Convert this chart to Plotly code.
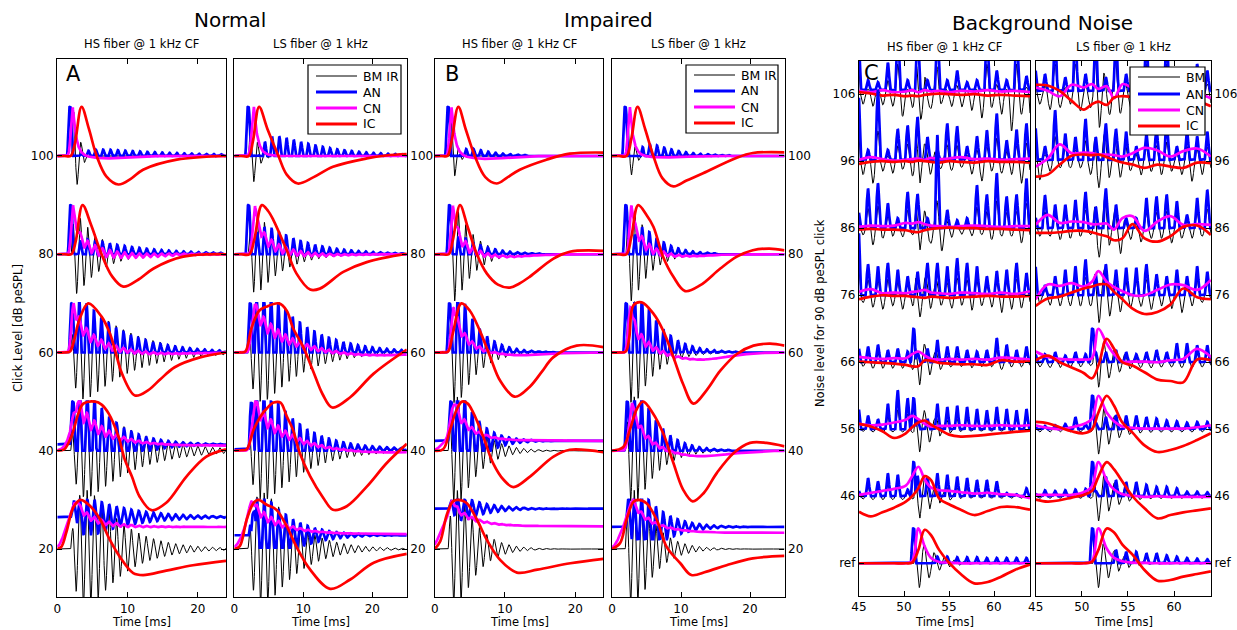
import numpy as np
import plotly.graph_objects as go

W, H = 1237, 630

# ---------------- data: click-evoked responses (Normal / Impaired) ----------------
click_levels = [100, 80, 60, 40, 20]
click_xticks = [0, 10, 20]
T_CLICK = 1.05  # ms, period of 1 kHz CF ringing

# panel order: Normal-HS, Normal-LS, Impaired-HS, Impaired-LS ; rows = levels 100..20
bm_t0 = [[2.06, 1.96, 1.8, 1.87, 1.87], [2.06, 2.0, 1.9, 1.9, 1.96], [2.1, 2.05, 1.95, 1.9, 1.9], [2.06, 2.0, 1.95, 1.9, 1.9]]
bm_amp = [[9, 8, 9.5, 9.5, 12], [7, 8, 10, 10, 11.5], [7, 9.5, 10.5, 11, 12], [6, 9.5, 10.5, 11, 12]]
bm_tr = [[0.2, 0.3, 1.0, 1.2, 1.5], [0.25, 0.5, 1.2, 1.5, 1.5], [0.2, 0.4, 0.6, 0.8, 0.8], [0.2, 0.4, 0.6, 0.8, 0.8]]
bm_tau = [[0.7, 3.5, 6.5, 6.5, 4.8], [0.8, 4.0, 5.5, 5.5, 4.5], [0.6, 2.6, 2.8, 2.8, 2.6], [0.7, 2.6, 3.0, 3.0, 2.8]]

an_base = [[0, 0, 0, 1.3, 6.5], [0, 0, 0, 0.3, 2.8], [0, 0, 0, 2.0, 8.2], [0, 0, 0, 0, 4.5]]
an_floor = [[0, 0, 0, 1.3, 3.5], [0, 0, 0, 0.3, 2.5], [0, 0, 0, 2.0, 2.5], [0, 0, 0, 0, 2.5]]
an_spike_t = [[1.8, 1.9, 2.05, 2.2, 2.5], [2.0, 2.05, 2.3, 2.5, 2.8], [1.9, 2.1, 2.1, 2.3, 2.5], [1.9, 2.0, 2.05, 2.2, 2.4]]
an_spike_h = [[10, 10, 10, 8.7, 3.5], [10, 10, 10, 9.7, 7.2], [10, 10, 10, 8, 1.8], [10, 10, 10, 10, 5.5]]
an_t0 = [[3.0, 2.3, 1.9, 1.9, 1.9], [3.5, 2.5, 2.1, 2.1, 2.1], [3.5, 2.5, 2.0, 2.0, 2.0], [3.8, 2.8, 2.2, 2.2, 2.2]]
an_tr = [[1.5, 0.8, 0.5, 1.0, 1.0], [1.5, 1.0, 1.0, 1.0, 1.2], [1.0, 0.6, 0.6, 0.6, 0.8], [1.0, 1.0, 0.8, 0.8, 1.2]]
an_amp = [[1.3, 3.0, 11, 12, 4.0], [4.0, 5.5, 13, 13, 8], [1.5, 3.5, 13, 12, 2.5], [2.4, 5.5, 13, 13, 7]]
an_tau = [[12, 8, 6, 4, 6], [7, 6, 6, 5, 4], [3.5, 3.5, 2.8, 2.5, 3.5], [4.0, 3.0, 3.2, 3.0, 3.2]]

cn_tp = [[2.2, 2.25, 2.35, 3.0, 2.8], [2.85, 3.0, 2.9, 3.0, 2.7], [2.4, 2.6, 2.7, 2.8, 2.6], [2.6, 2.8, 2.7, 2.9, 3.0]]
cn_sr = [[0.25, 0.25, 0.3, 0.8, 0.8], [0.3, 0.3, 0.35, 0.4, 0.7], [0.25, 0.25, 0.3, 0.5, 0.6], [0.25, 0.25, 0.3, 0.4, 0.8]]
cn_fast = [[7, 4.5, 3, 2, 1.5], [7, 4, 2, 1.5, 1.5], [7, 4, 3, 2, 1.5], [7, 3, 4, 2, 1]]
cn_slow = [[3, 5.5, 7, 7, 4], [3, 6, 8, 8.5, 5.5], [3, 6, 7, 6.3, 3.9], [3, 7, 6, 8, 5.7]]
cn_tau = [[0.7, 1.8, 3.0, 4.0, 2.5], [0.8, 2.2, 4.5, 4.8, 4.0], [0.7, 1.5, 2.0, 2.5, 3.0], [0.7, 1.6, 2.2, 2.2, 3.0]]
cn_end = [[0, 0, 0, 1.0, 4.5], [0, 0, 0, 0, 3.0], [0, 0, 0, 2.0, 4.6], [0, 0, 0, 0, 3.3]]
cn_step = [[5, 5, 5, 0.9, 0.8], [5, 5, 5, 5, 0.7], [5, 5, 5, 0.8, 0.5], [5, 5, 5, 5, 0.8]]
cn_dip = [[-0.5, -0.3, -0.3, 0, 0], [0, -0.2, -0.7, -0.5, 0], [-0.6, -0.5, -0.6, 0, 0], [-0.3, -0.4, -1.5, -1.2, 0]]
cn_rip = [[0, 1.0, 1.2, 1.5, 0.6], [0, 1.0, 1.3, 1.3, 0.8], [0, 1.0, 1.0, 1.0, 0.5], [0, 1.0, 1.0, 0.8, 0.5]]

# IC responses: (time ms, dB re. click level)
ic_nhs = [
    [(0, 0), (1.0, 0), (1.9, 0), (2.5, 2.5), (3.45, 10), (4.5, 5.5), (5.6, 0), (7.0, -4.2), (8.7, -5.8), (10.5, -4.6), (12.2, -2.8), (17, -0.75), (24, 0)],
    [(0, 0), (1.0, 0), (2.0, 0), (2.6, 2.5), (3.6, 10), (4.8, 6), (6.3, 0), (7.8, -4.5), (9.4, -6.6), (11.5, -5.2), (13.7, -2.9), (17.9, -0.5), (24, 0)],
    [(0, 0), (1.0, 0), (1.8, 0.2), (2.4, 2.5), (3.1, 6.5), (4.4, 10), (6.3, 7.3), (7.5, 3.8), (8.3, 0), (9.2, -4.3), (11.05, -8.75), (12.9, -7.7), (14.7, -5.4), (16.7, -3.0), (20.3, -1.0), (24, 0)],
    [(0, 0), (1.0, 0.3), (2.0, 2.9), (3.0, 7.6), (3.7, 9.6), (5.4, 10), (6.3, 9.4), (7.3, 7.6), (8.7, 2.9), (9.6, -1.8), (10.6, -5.2), (11.7, -9.3), (13.4, -12.1), (15.5, -10.6), (18.4, -5.2), (21.2, -1.2), (24, 0.3)],
    [(0, 0), (0.6, 0.5), (1.3, 3.5), (2.3, 8.5), (3.3, 10), (4.7, 8.7), (6.1, 6), (7.5, 1.8), (8.9, -1.6), (10.8, -4.9), (12.2, -5.3), (15.5, -4.4), (19.3, -3.3), (24, -2.4)],
]
ic_nls = [
    [(0, 0), (1.0, 0), (2.1, 0), (2.7, 3), (3.6, 10), (4.8, 5.5), (6.4, 0), (7.6, -3.8), (9.2, -5.6), (11.5, -4.3), (14.3, -2.2), (19.2, -0.5), (22, 0.1), (25, 0.4)],
    [(0, 0), (1.0, 0), (2.2, 0), (2.9, 3), (4.0, 10), (4.9, 8.8), (5.65, 7), (7.6, 0.8), (9.0, -3.9), (11.0, -7.2), (12.4, -7.0), (15.8, -3.6), (19.2, -1.6), (25, 0.1)],
    [(0, 0), (0.8, 0), (1.6, 0.2), (2.5, 5), (3.6, 8.5), (4.6, 9.3), (6.5, 10), (7.6, 8.5), (8.5, 5), (10.0, 1.1), (11.4, -3.7), (12.8, -8.5), (14.2, -11.2), (16.8, -9.1), (20.2, -4.3), (25, 0.6)],
    [(0, 0), (1.0, 0.1), (1.8, 0.3), (2.8, 4.3), (3.8, 7), (4.7, 8.6), (5.7, 9.8), (6.7, 9.8), (7.6, 7), (8.5, 4.3), (9.5, -0.5), (11.0, -5.2), (12.9, -9.6), (14.3, -12), (16.3, -11.3), (19.2, -7.3), (22.1, -2.5), (25, 1.4)],
    [(0, 0), (0.8, 0.6), (1.8, 6), (2.8, 9.4), (3.5, 10), (4.7, 9), (6.1, 8), (7.6, 4.6), (9.0, 0.5), (11.0, -4.2), (13.9, -8.1), (16.8, -6.2), (20.2, -2.8), (25, -1.0)],
]
ic_ihs = [
    [(0, 0), (1.0, 0), (1.8, 0), (2.4, 3), (3.36, 10), (4.4, 5.5), (5.7, 0), (7.2, -4.3), (8.8, -5.6), (10.3, -4.4), (12.1, -2.8), (15.9, -0.75), (19.2, 0.47), (24, 0.7)],
    [(0, 0), (1.0, 0), (2.0, 0), (2.6, 3), (3.6, 10), (4.7, 5.5), (6.0, 0), (7.4, -3.9), (9.0, -6.2), (10.7, -6.8), (12.0, -6.0), (13.5, -4.6), (16.9, -0.9), (19.2, 0.5), (24, 0.7)],
    [(0, 0), (1.0, 0), (1.9, 0.2), (2.6, 4), (3.8, 10), (5.0, 8.5), (6.4, 4.5), (7.9, -0.9), (9.3, -5.7), (11.4, -9), (13.5, -7), (15.2, -4), (16.9, -0.95), (20.2, 1.4), (24, 1.1)],
    [(0, 0), (1.2, 0.3), (2.2, 4.3), (3.1, 8.3), (3.9, 10), (4.7, 9.6), (5.5, 7.7), (6.9, 2.9), (8.3, -2.5), (9.8, -5.9), (11.2, -7.4), (13.6, -5.2), (16.9, -1.2), (19.2, 0.2), (24, -0.3)],
    [(0, 0), (0.8, 1.6), (1.7, 6.9), (2.6, 9.7), (3.4, 10), (4.5, 9.4), (6.0, 6), (7.4, 1.9), (9.3, -2.2), (11.7, -4.8), (14.6, -4.2), (19.3, -2.9), (24, -2.0)],
]
ic_ils = [
    [(0, 0), (1.0, 0), (2.1, 0), (2.8, 3.5), (3.7, 10), (4.8, 5.5), (6.0, 0), (7.3, -4.5), (8.9, -6.2), (10.8, -5), (13.2, -3.5), (18, -0.4), (20.4, 0.6), (25, 0.75)],
    [(0, 0), (1.0, 0), (2.1, 0), (2.8, 3.5), (3.8, 10), (5.0, 8), (6.0, 5.6), (7.4, -0.5), (8.9, -4.6), (10.6, -7.5), (12.8, -6.3), (15.7, -2.9), (18.1, -0.5), (20.4, 0.8), (22.8, 1.15), (25, 0.8)],
    [(0, 0), (1.0, 0), (2.0, 0.2), (2.5, 3), (3.1, 9.6), (4.3, 10.2), (6.0, 7.9), (7.4, 4.5), (8.9, -0.95), (10.3, -6.4), (11.8, -10.4), (13.7, -7.7), (15.7, -3.7), (18.1, -0.3), (20.5, 1.4), (22.9, 1.8), (25, 1.4)],
    [(0, 0), (1.6, 0.7), (2.6, 4.3), (3.6, 8.5), (4.5, 10), (5.9, 7.7), (7.4, 3.6), (8.9, -2.5), (10.3, -7.9), (11.7, -10.3), (13.3, -8.6), (15.2, -4.5), (17.6, -0.5), (20, 1.6), (22.4, 1.6), (25, 0.9)],
    [(0, 0), (1.16, 1.2), (2.1, 5.9), (3.1, 9.6), (3.8, 10), (5.0, 9.3), (6.5, 5.9), (7.9, 0.5), (9.9, -2.9), (11.5, -5.3), (13.7, -4.6), (16.6, -3.3), (20.4, -1.9), (25, -1.4)],
]
ic_click = [ic_nhs, ic_nls, ic_ihs, ic_ils]

# ---------------- data: background noise (90 dB click in noise) ----------------
noise_levels = [106, 96, 86, 76, 66, 56, 46, 36]
noise_ticktext = ['106', '96', '86', '76', '66', '56', '46', 'ref']
noise_xticks = [45, 50, 55, 60]
T_NOISE = 1.1
noise_peak_t = [44.9, 46.0, 47.1, 48.2, 49.3, 50.4, 51.5, 52.6, 53.7, 54.8, 55.9, 57.0, 58.1, 59.2, 60.3, 61.4, 62.5, 63.6, 64.7]

an_h_hs = [
    [9, 1.5, 1.2, 4.1, 9, 1.5, 9, 1.5, 9, 1.5, 2.9, 1.2, 1.5, 9, 2.9, 1.5, 9, 2.1, 1.0],
    [12, 1.5, 10.5, 1.5, 4.6, 5.1, 6.4, 3.4, 1.5, 5.4, 5.0, 2.0, 3.5, 4.4, 6.9, 2.9, 4.5, 5.4, 1.0],
    [3, 5.9, 6.7, 3.7, 1.5, 5.4, 5.1, 1.5, 13.9, 2.7, 1.2, 1.5, 6.4, 5.0, 8.2, 4.7, 5.0, 7.4, 1.0],
    [12, 4.6, 4.3, 4.8, 3.8, 2.8, 3.5, 4.8, 4.8, 4.3, 5.5, 4.8, 4.3, 2.8, 3.6, 3.8, 4.8, 3.3, 1.0],
    [2.6, 2.3, 2.6, 1.8, 2.0, 1.6, 1.5, 2.0, 3.3, 2.3, 2.3, 1.8, 1.6, 1.8, 3.6, 2.6, 1.8, 2.3, 1.0],
    [3.8, 2.0, 1.5, 3.8, 5.8, 4.6, 1.5, 1.5, 3.8, 3.3, 3.5, 3.3, 3.0, 2.8, 3.3, 3.0, 2.8, 3.0, 1.0],
    [1.0, 2.7, 2.2, 3.4, 3.2, 1.0, 3.0, 2.8, 3.4, 3.2, 2.9, 2.7, 2.4, 2.4, 2.2, 0.5, 0.3, 1.2, 0.5],
    [0, 0, 0, 0, 0, 0, 0, 0, 1.0, 1.0, 0.9, 0.9, 0.9, 0.8, 0.8, 0.8, 0.8, 0.8, 0.8],
]
bm_d_hs = [
    [1.5, 1.8, 1.6, 1.8, 3.3, 2.0, 3.5, 2.0, 1.5, 2.0, 2.0, 2.5, 3.6, 2.0, 3.0, 5.5, 3.0, 4.3, 2.0],
    [2.0, 3.3, 1.5, 1.8, 1.2, 2.2, 1.0, 1.5, 1.0, 1.5, 1.0, 2.0, 3.0, 1.5, 1.8, 2.0, 3.3, 2.0, 2.0],
    [1.0, 2.5, 1.5, 1.2, 1.3, 1.0, 1.0, 2.2, 3.7, 1.5, 1.0, 1.2, 1.0, 1.7, 1.2, 1.2, 2.2, 1.5, 1.0],
    [1.1, 1.8, 2.1, 1.6, 2.1, 1.6, 1.6, 1.6, 1.6, 2.1, 1.6, 2.3, 1.6, 1.8, 2.6, 2.1, 1.9, 1.5, 1.0],
    [0.6, 0.9, 0.9, 0.9, 0.9, 1.1, 0.5, 0.8, 0.9, 0.7, 0.7, 0.9, 0.7, 0.7, 1.1, 0.7, 0.7, 0.7, 0.7],
    [0.3, 0.4, 0.4, 0.4, 0.4, 0.5, 0.3, 0.4, 0.5, 0.4, 0.3, 0.3, 0.3, 0.3, 0.3, 0.3, 0.3, 0.3, 0.3],
    [0.4, 0.5, 0.5, 0.5, 0.5, 0.4, 0.3, 0.4, 0.4, 0.4, 0.3, 0.3, 0.3, 0.3, 0.3, 0.3, 0.3, 0.3, 0.3],
    [0, 0, 0, 0, 0, 0, 0, 0, 0, 0, 0, 0, 0, 0, 0, 0, 0, 0, 0],
]
an_h_ls = [
    [3.9, 2.5, 9, 2.0, 9, 2.5, 9, 2.0, 9, 2.5, 3.0, 9, 2.0, 9, 3.0, 2.5, 4, 3, 2],
    [6.1, 2.0, 7.4, 3.9, 3.4, 6.1, 3.4, 5.4, 4.6, 4.2, 2.0, 3.9, 4.6, 5.7, 2.0, 4.4, 3.5, 4.2, 2],
    [2.0, 4.9, 3.5, 3.5, 4.2, 5.4, 3.2, 5.9, 3.5, 1.5, 1.5, 4.5, 4.7, 5.0, 4.0, 2.0, 4.5, 5.7, 2],
    [5.5, 1.5, 2.8, 3.8, 4.3, 5.3, 3.1, 4.6, 3.8, 4.1, 4.1, 4.6, 3.1, 2.8, 3.8, 2.8, 4.3, 3.5, 2],
    [1.5, 1.2, 1.5, 1.0, 1.5, 1.2, 1.5, 1.5, 1.8, 1.5, 1.2, 1.5, 1.8, 1.5, 2.8, 2.8, 2.5, 2.5, 1],
    [0.3, 0.5, 0.6, 0.8, 1.8, 0.8, 1.0, 1.8, 2.1, 2.0, 2.0, 1.8, 1.6, 1.3, 1.2, 1.0, 1.1, 1.1, 1],
    [0.5, 0.9, 0.8, 0.9, 1.0, 1.1, 0.8, 2.9, 2.4, 2.1, 2.1, 1.7, 1.4, 1.4, 1.2, 0.7, 0.7, 0.6, 0.5],
    [0, 0, 0, 0, 0, 0, 0, 0, 2.0, 1.7, 1.7, 1.5, 1.5, 1.2, 1.0, 0.8, 0.7, 0.6, 0.5],
]
bm_d_ls = [
    [1.5, 2.3, 2.0, 1.5, 2.5, 2.0, 3.0, 2.0, 2.5, 2.0, 1.5, 2.5, 2.0, 2.5, 2.0, 2.0, 2.5, 2.0, 2.0],
    [2.8, 1.5, 1.0, 1.0, 1.0, 2.0, 1.2, 1.0, 2.0, 1.2, 2.0, 1.5, 2.0, 1.5, 2.0, 3.0, 2.0, 1.5, 1.5],
    [1.2, 1.2, 1.7, 1.5, 1.2, 1.0, 2.0, 1.2, 3.5, 1.5, 2.0, 1.5, 1.5, 2.2, 1.5, 1.5, 1.2, 1.2, 1.0],
    [1.1, 1.5, 1.6, 1.6, 1.6, 1.6, 1.5, 2.1, 2.1, 1.6, 1.6, 2.1, 1.6, 2.0, 2.6, 1.6, 1.1, 1.1, 1.0],
    [0.7, 0.8, 0.8, 0.8, 0.7, 0.5, 0.5, 0.8, 0.8, 0.7, 0.7, 0.8, 0.7, 0.7, 0.8, 0.8, 0.7, 0.7, 0.7],
    [0.4, 0.4, 0.4, 0.4, 0.4, 0.4, 0.4, 0.4, 0.4, 0.4, 0.4, 0.4, 0.4, 0.4, 0.4, 0.4, 0.4, 0.4, 0.4],
    [0.3, 0.3, 0.3, 0.3, 0.3, 0.3, 0.3, 0.3, 0.3, 0.3, 0.3, 0.3, 0.3, 0.3, 0.3, 0.3, 0.3, 0.3, 0.3],
    [0, 0, 0, 0, 0, 0, 0, 0, 0, 0, 0, 0, 0, 0, 0, 0, 0, 0, 0],
]
an_base_noise = [[0.6, 0.2, 0, 0, 0, 0, 0, 0], [0.5, 0.2, 0, 0, 0, 0, 0, 0]]
click_spike_h = [[0, 0, 0, 0, 5.0, 4.6, 5.1, 5.2], [0, 0, 0, 0, 5.0, 5.0, 5.1, 5.2]]
click_an_t = [51.05, 51.15]
click_bm_t = [51.7, 51.8]
click_bm_amp = 4.0

ctl_t_hs = [45, 46.3, 47.6, 48.9, 50.2, 50.9, 51.6, 52.3, 53.0, 53.9, 55.0, 56.3, 57.8, 59.3, 60.8, 62.3, 64]
ctl_t_ls = [45, 46.3, 47.6, 48.9, 50.2, 51.1, 51.8, 52.7, 53.5, 54.4, 55.5, 56.8, 58.2, 59.6, 61.0, 62.5, 64]
cn_hs = [
    [0.5, 0.3, 0.6, 0.3, 0.4, 0.6, 0.3, 0.6, 0.4, 0.5, 0.3, 0.5, 0.4, 0.6, 0.4, 0.5, 0.3],
    [0.2, 0.6, 0.3, 0.1, 0.2, 0.3, 0.4, 0.2, 0.5, 0.3, 0.4, 0.6, 0.3, 0.4, 0.2, 0.3, 0.4],
    [0.2, 0.4, 0.3, 0.4, 0.8, 0.7, 0.9, 0.6, 0.4, 0.3, 0.2, 0.3, 0.4, 0.3, 0.2, 0.3, 0.3],
    [0.5, 0.9, 0.3, 0.4, 0.3, 0.5, 0.6, 0.8, 0.4, 0.3, 0.2, 0.4, 0.3, 0.2, 0.4, 0.2, 0.6],
    [0.8, 0.6, 0.5, 0.6, 0.6, 1.2, 1.6, 1.0, 0.5, 0.4, 0.5, 0.4, 0.5, 0.4, 0.7, 0.6, 0.4],
    [0.8, 0.6, 0.7, 1.0, 1.4, 2.0, 1.5, 0.8, 0.4, 0.5, 0.5, 0.6, 0.5, 0.5, 0.6, 0.5, 0.6],
    [0.2, 0.5, 0.8, 1.1, 1.6, 3.0, 4.4, 2.5, 1.3, 0.9, 0.8, 0.6, 0.4, 0.5, 0.3, 0.2, -0.3],
    [0, 0, 0, 0, 0, 0.3, 5.2, 2.5, 0.8, 0.2, 0.1, 0, 0, 0, 0, 0, 0],
]
ic_hs = [
    [0.3, 0.1, -0.2, -0.1, -0.3, -0.2, -0.3, -0.1, 0, 0.1, 0, -0.1, 0, -0.2, -0.1, -0.2, -0.3],
    [-0.4, -0.1, 0, -0.1, 0, -0.1, 0.1, 0, -0.1, -0.2, 0, -0.1, -0.2, 0, -0.1, -0.1, -0.2],
    [-0.2, -0.1, -0.2, -0.2, -0.3, -0.5, -0.6, -0.3, -0.1, 0, 0.1, 0, 0, -0.1, -0.1, -0.2, -0.3],
    [-0.6, -0.2, 0, -0.1, -0.1, -0.2, -0.3, -0.4, -0.2, -0.3, -0.4, -0.3, -0.2, -0.1, -0.2, -0.2, -0.1],
    [0.1, 0, -0.1, -0.2, -0.4, -0.6, -0.6, 0.3, 0.2, -0.1, -0.2, -0.3, -0.3, -0.4, 0.3, 0.1, 0.1],
    [0.8, 0.4, -0.3, -1.3, -0.6, 0.3, 1.0, 1.3, 0.7, 0.0, -0.8, -1.1, -1.0, -0.8, -0.6, -0.4, -0.2],
    [-2.3, -3.0, -2.4, -1.7, -0.8, 0.0, 1.2, 3.0, 2.4, -0.3, -1.2, -2.0, -2.8, -2.2, -1.6, -1.6, -2.0],
    [0, 0, 0, 0, 0, 0.1, 2.0, 5.0, 4.2, 2.0, 0.1, -1.6, -3.0, -2.8, -2.0, -1.0, -0.2],
]
cn_ls = [
    [1.0, 0.5, -0.3, 1.4, 1.0, 1.5, 0.8, 1.2, -0.6, 1.5, 1.0, 1.2, 0.8, 1.0, 0.6, 0.2, -0.6],
    [-0.8, 0.4, 2.5, 1.2, 1.3, 1.2, 1.0, 1.0, 0.9, 0.7, 1.2, 2.0, 1.6, 0.7, 1.5, 1.9, 0.7],
    [0.5, 2.0, 0.8, 1.0, 0.9, 0.6, 0.6, 0.7, -0.2, 1.5, 1.8, -0.4, 1.0, 1.8, 0.5, 0.6, 0.5],
    [-0.6, 1.6, 1.4, 1.8, 1.3, 2.0, 3.6, 2.0, 1.2, 0.6, 0.0, 0.0, 0.8, 1.6, 1.5, 0.8, 2.3],
    [1.6, 0.8, 0.5, 0.4, 0.4, 0.6, 5.0, 2.8, 1.2, 0.1, 0.1, 0.1, 0.0, 0.3, 0.5, 2.0, 0.8],
    [0.6, 0.2, 0.0, 0.3, 0.8, 1.5, 5.0, 2.5, 1.2, 0.4, 0.2, 0.1, 0.1, 0.1, 0.1, 0.3, 0.6],
    [0.2, 0.2, 0.2, 0.2, 0.6, 1.5, 5.1, 2.4, 1.0, 0.3, 0.1, -0.1, 0.0, -0.1, -0.1, -0.1, -0.1],
    [0, 0, 0, 0, 0, 0.3, 5.2, 2.2, 0.8, 0.3, 0.1, 0.05, 0, 0, 0, 0, 0],
]
ic_ls = [
    [1.4, 1.3, 0.5, -1.0, -2.3, -1.5, -1.1, -1.6, -0.5, -0.3, -0.4, -0.5, -0.4, -0.5, -0.6, -1.0, -1.8],
    [-2.3, -2.0, -0.5, 0.8, 1.0, 0.9, 1.0, 0.6, 0.2, -0.2, -0.5, -1.0, -0.5, -0.8, -1.0, -0.2, -0.3],
    [-0.7, -0.7, -0.6, -0.4, -0.4, -0.6, -0.9, -1.2, -1.8, -1.5, 0.6, -1.5, -2.0, -1.2, 0.2, 0.4, -1.0],
    [-1.6, -0.5, -0.2, 0.4, 1.0, 1.3, 1.6, 1.6, 0.5, -0.6, -2.0, -2.8, -2.5, -1.4, 1.0, -0.3, -0.6],
    [0.3, 1.0, 0.0, -0.8, -1.6, -2.4, -0.5, 3.5, 2.0, 0.0, -0.5, -1.5, -2.6, -2.8, -3.0, 0.4, 0.3],
    [1.1, 0.9, 0.3, -0.3, -0.6, 0.0, 2.5, 5.0, 3.5, 1.0, -0.5, -2.4, -3.4, -3.1, -2.5, -1.6, -0.6],
    [-0.5, -0.8, -0.6, -0.2, 0.2, 0.8, 2.9, 5.1, 4.0, 2.2, 0.0, -1.8, -3.3, -2.8, -2.4, -2.1, -1.8],
    [0, 0, 0, 0, 0, 0.2, 2.0, 5.2, 4.6, 2.8, 1.3, -1.0, -2.6, -2.5, -2.0, -1.6, -1.2],
]

# legend labels (one legend per figure group)
legend_labels = [['BM IR', 'AN', 'CN', 'IC'], ['BM IR', 'AN', 'CN', 'IC'], ['BM', 'AN', 'CN', 'IC']]

# ---------------- styles ----------------
C_BM, C_AN, C_CN, C_IC = 'black', '#0000ff', '#ff00ff', '#ff0000'
LW_THIN, LW_THICK = 1.0, 2.7
FONT = 'DejaVu Sans'
series_colors = [C_BM, C_AN, C_CN, C_IC]
series_widths = [LW_THIN, LW_THICK, LW_THICK, LW_THICK]

# panel frames in pixels: (x0, x1, y_top, y_bottom, xrange, yrange)
panels = [
    (57.3, 226.0, 59.3, 597.0, [0, 24], [10.23, 119.68]),
    (234.3, 406.8, 59.3, 597.0, [0, 25], [10.23, 119.68]),
    (434.7, 603.4, 59.3, 597.0, [0, 24], [10.23, 119.68]),
    (612.0, 784.5, 59.3, 597.0, [0, 25], [10.23, 119.68]),
    (859.0, 1030.0, 60.7, 595.7, [45, 64], [31.16, 111.0]),
    (1035.7, 1210.9, 60.7, 595.7, [45, 64], [31.16, 111.0]),
]
# legend boxes in pixels: (x0, x1, y0, y1, line_x0, line_x1, text_x, entry_y list)
legend_boxes = [
    (308, 401, 65, 134, 316, 357, 361, [76, 92, 108, 124]),
    (686, 778, 65, 133, 694, 735, 739, [75, 91, 107, 123]),
    (1130, 1205, 67, 135, 1138, 1180, 1184, [77, 94, 110, 126]),
]


def envelope(t, t0, tr, tau):
    x = np.clip(t - t0, 0.0, None)
    e = (1.0 - np.exp(-x / tr)) * np.exp(-x / tau)
    return e / e.max()


def axis_ids(n):
    return ('x' if n == 0 else f'x{n + 1}'), ('y' if n == 0 else f'y{n + 1}')


fig = go.Figure()


def add_line(n, x, y, color, width, shape='linear'):
    xa, ya = axis_ids(n)
    fig.add_trace(go.Scatter(
        x=x, y=y, xaxis=xa, yaxis=ya, mode='lines',
        line=dict(color=color, width=width, shape=shape, smoothing=1.0 if shape == 'spline' else None),
        showlegend=False, hoverinfo='skip'))


# ---- click panels ----
for p in range(4):
    tmax = panels[p][4][1]
    t = np.arange(0.0, tmax + 0.001, 0.02)
    for i, lvl in enumerate(click_levels):
        s = np.sin(2 * np.pi * (t - bm_t0[p][i]) / T_CLICK)
        bm = lvl + bm_amp[p][i] * envelope(t, bm_t0[p][i], bm_tr[p][i], bm_tau[p][i]) * s

        e_an = envelope(t, an_t0[p][i], an_tr[p][i], an_tau[p][i])
        ring = an_amp[p][i] * e_an * s
        ring = np.where(ring >= 0, ring, np.maximum(ring, -an_floor[p][i]))
        spike = an_spike_h[p][i] * np.exp(-((t - an_spike_t[p][i]) / 0.28) ** 4)
        an = an_base[p][i] + ring + np.maximum(spike - np.maximum(ring, 0), 0)
        an = lvl + np.minimum(an, 10)

        tp, sr = cn_tp[p][i], cn_sr[p][i]

        def g(td):
            return np.where(t < tp, np.exp(-0.5 * ((t - tp) / sr) ** 2), np.exp(-(t - tp) / td))

        tau = cn_tau[p][i]
        cn = (cn_end[p][i] / (1 + np.exp(-(t - cn_step[p][i]) / 0.35))
              + cn_fast[p][i] * g(0.45) + cn_slow[p][i] * g(tau)
              + cn_dip[p][i] * np.exp(-0.5 * ((t - (tp + 3 * tau + 3)) / (2 + tau)) ** 2)
              + cn_rip[p][i] * e_an * s)
        cn = lvl + np.minimum(cn, 10)

        pts = ic_click[p][i]
        ic_x = [q[0] for q in pts]
        ic_y = [lvl + q[1] for q in pts]

        add_line(p, t, bm, C_BM, LW_THIN)
        add_line(p, t, an, C_AN, LW_THICK)
        add_line(p, t, cn, C_CN, LW_THICK)
        add_line(p, ic_x, ic_y, C_IC, LW_THICK, shape='spline')

# ---- noise panels ----
tn = np.arange(45.0, 64.001, 0.01)
an_h_all = [an_h_hs, an_h_ls]
bm_d_all = [bm_d_hs, bm_d_ls]
cn_all = [cn_hs, cn_ls]
ic_all = [ic_hs, ic_ls]
ctl_all = [ctl_t_hs, ctl_t_ls]
pk0 = noise_peak_t[0]
npk = len(noise_peak_t)
for side in range(2):
    n = 4 + side
    for j, lvl in enumerate(noise_levels):
        Hs = np.array(an_h_all[side][j], dtype=float)
        Ds = np.array(bm_d_all[side][j], dtype=float)
        ph = (tn - pk0) / T_NOISE
        c = np.cos(2 * np.pi * ph)
        k = np.clip(np.round(ph).astype(int), 0, npk - 1)
        m = np.clip(np.floor(ph).astype(int), 0, npk - 1)
        Hk = Hs[k]
        peaks = Hk * np.maximum(c, 0) ** 1.5
        spike = click_spike_h[side][j] * np.exp(-((tn - click_an_t[side]) / 0.2) ** 4)
        an = lvl + an_base_noise[side][j] + np.maximum(peaks, spike)

        bm_noise = np.where(c >= 0, 0.5 * np.minimum(Hk, 9) * c, Ds[m] * c)
        x_on = tn - (click_bm_t[side] - 0.6)
        cb = np.where(x_on > 0,
                      -click_bm_amp * (1 - np.exp(-np.clip(x_on, 0, None) / 0.25))
                      * np.exp(-(tn - click_bm_t[side]) / 1.8)
                      * np.cos(2 * np.pi * (tn - click_bm_t[side]) / T_NOISE), 0)
        bm = lvl + bm_noise + cb

        ctl = ctl_all[side]
        cn = [lvl + v for v in cn_all[side][j]]
        ic = [lvl + v for v in ic_all[side][j]]

        add_line(n, tn, bm, C_BM, LW_THIN)
        add_line(n, tn, an, C_AN, LW_THICK)
        add_line(n, ctl, cn, C_CN, LW_THICK, shape='spline')
        add_line(n, ctl, ic, C_IC, LW_THICK, shape='spline')

# ---------------- layout ----------------
layout = dict(width=W, height=H, margin=dict(l=0, r=0, t=0, b=0, autoexpand=False),
              paper_bgcolor='white', plot_bgcolor='white', showlegend=False,
              font=dict(family=FONT, size=12, color='black'))
tickfont = dict(family=FONT, size=12, color='black')
for n, (x0, x1, yt, yb, xr, yr) in enumerate(panels):
    xk = 'xaxis' if n == 0 else f'xaxis{n + 1}'
    yk = 'yaxis' if n == 0 else f'yaxis{n + 1}'
    xa, ya = axis_ids(n)
    common = dict(showline=True, mirror='ticks', linecolor='black', linewidth=1.3,
                  ticks='inside', ticklen=5, tickwidth=1, tickcolor='black',
                  showgrid=False, zeroline=False, tickfont=tickfont, fixedrange=True,
                  automargin=False)
    xt = click_xticks if n < 4 else noise_xticks
    layout[xk] = dict(domain=[x0 / W, x1 / W], range=xr, anchor=ya, tickvals=xt, **common)
    if n < 4:
        yvals, ytext = [20, 40, 60, 80, 100], ['20', '40', '60', '80', '100']
    else:
        yvals, ytext = noise_levels, noise_ticktext
    side = 'right' if n in (1, 3, 5) else 'left'
    layout[yk] = dict(domain=[1 - yb / H, 1 - yt / H], range=yr, anchor=xa, side=side,
                      tickvals=yvals, ticktext=ytext, showticklabels=(n != 2), **common)

ann = []
shapes = []


def px(x):
    return x / W


def py(y):
    return 1 - y / H


def text(x, y, s, size, angle=0, xanchor='center'):
    ann.append(dict(x=px(x), y=py(y), xref='paper', yref='paper', text=s, showarrow=False,
                    font=dict(family=FONT, size=size, color='black'), textangle=angle,
                    xanchor=xanchor, yanchor='middle'))


# hand-drawn legends (box, line samples, labels)
for L, (bx0, bx1, by0, by1, lx0, lx1, tx, ys) in enumerate(legend_boxes):
    shapes.append(dict(type='rect', xref='paper', yref='paper', x0=px(bx0), x1=px(bx1),
                       y0=py(by1), y1=py(by0), fillcolor='white',
                       line=dict(color='black', width=1.2), layer='above'))
    for e in range(4):
        shapes.append(dict(type='line', xref='paper', yref='paper', x0=px(lx0), x1=px(lx1),
                           y0=py(ys[e]), y1=py(ys[e]),
                           line=dict(color=series_colors[e], width=series_widths[e] + (0.3 if e else 0)),
                           layer='above'))
        text(tx, ys[e], legend_labels[L][e], 12.5, xanchor='left')

text(230, 20, 'Normal', 20)
text(608, 20, 'Impaired', 20)
text(1042, 23, 'Background Noise', 20)
sub = ['HS fiber @ 1 kHz CF', 'LS fiber @ 1 kHz']
for n, (x0, x1, yt, yb, xr, yr) in enumerate(panels):
    text((x0 + x1) / 2, 44 if n < 4 else 47, sub[n % 2], 11.5)
    text((x0 + x1) / 2, 622, 'Time [ms]', 11.5)
text(73, 74, 'A', 21)
text(452, 74, 'B', 21)
text(871, 73, 'C', 21)
text(18, 328, 'Click Level [dB peSPL]', 11.5, angle=-90)
text(820, 313, 'Noise level for 90 dB peSPL click', 11.5, angle=-90)
layout['annotations'] = ann
layout['shapes'] = shapes

fig.update_layout(**layout)
fig.write_html('out.html', config={'displayModeBar': False},
               post_script="document.body.style.margin='0';document.body.style.padding='0';")
